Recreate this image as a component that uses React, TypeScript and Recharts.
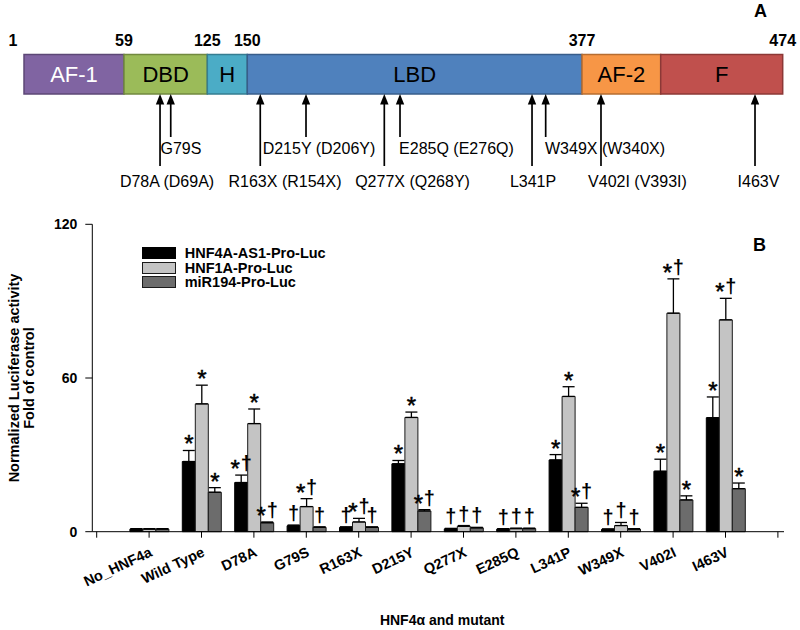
import {
  Bar,
  BarChart,
  ComposedChart,
  ErrorBar,
  LabelList,
  Legend,
  ReferenceArea,
  ReferenceDot,
  ReferenceLine,
  Scatter,
  XAxis,
  YAxis,
} from "recharts";

const FONT = '"Liberation Sans", Arial, Helvetica, sans-serif';

// ---- panel A: HNF4A domain map (schematic units 0-100 along the box) ----
const domainNames = ["AF-1", "DBD", "H", "LBD", "AF-2", "F"];
const domainSpans = [13.18, 10.98, 5.27, 44.12, 10.37, 16.08];
const boundaryResidues = [1, 59, 125, 150, 377, 474];
const boundaryDomainIndex = [0, 1, 2, 3, 4, 6];

const mutationNames = [
  "D78A (D69A)",
  "G79S",
  "R163X (R154X)",
  "D215Y (D206Y)",
  "Q277X (Q268Y)",
  "E285Q (E276Q)",
  "L341P",
  "W349X (W340X)",
  "V402I (V393I)",
  "I463V",
];
const mutationSites = [17.93, 19.34, 31.14, 37.17, 47.49, 49.56, 66.96, 68.76, 76.05, 96.35];
const mutationLabelAt = [18.85, 20.69, 34.4, 38.88, 51.21, 57.0, 67.09, 76.58, 80.86, 96.81];
const mutationTier = [2, 1, 2, 1, 2, 1, 2, 1, 2, 2];

// ---- panel B: luciferase activity ----
const categories = [
  "No_HNF4a",
  "Wild Type",
  "D78A",
  "G79S",
  "R163X",
  "D215Y",
  "Q277X",
  "E285Q",
  "L341P",
  "W349X",
  "V402I",
  "I463V",
];
const as1Values = [1.0, 27.4, 19.2, 2.3, 1.7, 26.5, 1.1, 1.0, 28.0, 0.9, 23.6, 44.5];
const as1Errors = [0.2, 4.3, 2.9, 0.3, 0.2, 1.3, 0.2, 0.2, 2.1, 0.2, 4.7, 8.1];
const as1Marks = ["", "*", "*†", "†", "†", "*", "†", "†", "*", "†", "*", "*"];

const hnf1aValues = [1.0, 49.9, 42.2, 9.8, 3.8, 44.6, 2.1, 1.2, 52.8, 2.4, 85.3, 82.7];
const hnf1aErrors = [0.2, 7.3, 5.7, 3.1, 1.4, 2.1, 0.3, 0.2, 3.8, 1.2, 13.4, 8.4];
const hnf1aMarks = ["", "*", "*", "*†", "*†", "*", "†", "†", "*", "†", "*†", "*†"];

const mir194Values = [1.0, 15.4, 3.5, 1.7, 1.7, 8.1, 1.5, 1.2, 9.5, 1.0, 12.4, 16.8];
const mir194Errors = [0.2, 1.8, 0.3, 0.2, 0.2, 0.5, 0.2, 0.2, 1.6, 0.2, 1.6, 2.2];
const mir194Marks = ["", "*", "*†", "†", "†", "*†", "†", "†", "*†", "†", "*", "*"];

const yTicks = [0, 60, 120];

const series = [
  { key: "as1", name: "HNF4A-AS1-Pro-Luc", values: as1Values, errors: as1Errors, marks: as1Marks, fill: "#000000", stroke: "#000000" },
  { key: "hnf1a", name: "HNF1A-Pro-Luc", values: hnf1aValues, errors: hnf1aErrors, marks: hnf1aMarks, fill: "#c4c4c4", stroke: "#1a1a1a" },
  { key: "mir194", name: "miR194-Pro-Luc", values: mir194Values, errors: mir194Errors, marks: mir194Marks, fill: "#6c6c6c", stroke: "#1a1a1a" },
];

const rows = categories.map((name, i) => {
  const row: Record<string, any> = { pos: i + 1, name };
  for (const s of series) {
    row[s.key] = s.values[i];
    row[s.key + "Err"] = [0, s.errors[i]];
    row[s.key + "Mark"] = s.marks[i];
  }
  return row;
});

const xTicks = Array.from({ length: categories.length + 2 }, (_, i) => i);

const domainFill = ["#8064a2", "#9bbb59", "#4bacc6", "#4f81bd", "#f79646", "#c0504d"];
const domainEdge = ["#5c4776", "#71893f", "#357d91", "#385d8a", "#b66d31", "#8c3836"];
const domainText = ["#ffffff", "#000000", "#000000", "#000000", "#000000", "#000000"];

// layout of panel A (y in pixels of that panel)
const BOX_TOP = 54.5;
const BOX_BOTTOM = 94;
const NUM_Y = 40.5;
const ARROW_END = [0, 137, 166];
const LABEL_Y = [0, 148, 181];

const domainStarts = domainSpans.reduce<number[]>((acc, w) => [...acc, acc[acc.length - 1] + w], [0]);

const mutationRows = mutationNames.map((name, i) => ({
  name,
  x: mutationLabelAt[i],
  y: LABEL_Y[mutationTier[i]],
}));

const Arrow = (p: any) => {
  const { x1, y1, y2 } = p;
  const top = Math.min(y1, y2);
  const bottom = Math.max(y1, y2);
  return (
    <g>
      <line x1={x1} y1={top + 8} x2={x1} y2={bottom} stroke="#000" strokeWidth={1.7} />
      <polygon points={`${x1},${top} ${x1 - 4.2},${top + 10.5} ${x1 + 4.2},${top + 10.5}`} fill="#000" />
    </g>
  );
};

const MutationText = (p: any) => (
  <text x={p.cx} y={p.cy} dy="0.36em" textAnchor="middle" fontSize={16} fill="#000">
    {p.payload?.name}
  </text>
);

const domainLabel = (name: string, color: string) => (p: any) => {
  const vb = p.viewBox;
  return (
    <text
      x={vb.x + vb.width / 2}
      y={vb.y + vb.height / 2}
      dy="0.36em"
      textAnchor="middle"
      fontSize={22}
      fill={color}
    >
      {name}
    </text>
  );
};

function DomainMap() {
  return (
    <ComposedChart width={800} height={200} data={mutationRows} margin={{ top: 0, right: 17.3, bottom: 0, left: 24 }}>
      <XAxis type="number" dataKey="x" domain={[0, 100]} allowDataOverflow hide />
      <YAxis type="number" dataKey="y" domain={[0, 200]} allowDataOverflow reversed hide />
      {domainNames.map((name, i) => (
        <ReferenceArea
          key={name}
          x1={domainStarts[i]}
          x2={domainStarts[i + 1]}
          y1={BOX_TOP}
          y2={BOX_BOTTOM}
          fill={domainFill[i]}
          fillOpacity={1}
          stroke={domainEdge[i]}
          strokeWidth={1.5}
          ifOverflow="visible"
          label={{ content: domainLabel(name, domainText[i]) }}
        />
      ))}
      {boundaryResidues.map((r, i) => (
        <ReferenceDot
          key={"b" + r}
          x={domainStarts[boundaryDomainIndex[i]]}
          y={NUM_Y}
          r={0}
          stroke="none"
          fill="none"
          ifOverflow="visible"
          label={{
            value: String(r),
            position: i === 0 ? "left" : "center",
            offset: 6.5,
            fill: "#000",
            fontSize: 16,
            fontWeight: "bold",
          }}
        />
      ))}
      {mutationNames.map((m, i) => (
        <ReferenceLine
          key={"a" + m}
          segment={[
            { x: mutationSites[i], y: BOX_BOTTOM },
            { x: mutationSites[i], y: ARROW_END[mutationTier[i]] },
          ]}
          ifOverflow="visible"
          shape={Arrow}
        />
      ))}
      <Scatter dataKey="y" shape={<MutationText />} isAnimationActive={false} />
    </ComposedChart>
  );
}

const CategoryTick = (props: any) => {
  const { x, y, payload } = props;
  const label = categories[payload.value - 1];
  if (!label) return null;
  return (
    <text
      x={x + 4}
      y={y + 16}
      transform={`rotate(-25 ${x + 4} ${y + 16})`}
      textAnchor="end"
      fontSize={14.5}
      fontWeight="bold"
      fill="#000"
    >
      {label}
    </text>
  );
};

const YTitle = (props: any) => {
  const { viewBox } = props;
  const cy = viewBox.y + viewBox.height / 2;
  return (
    <g fontWeight="bold" fontSize={14.5} fill="#000">
      <text x={19} y={cy} transform={`rotate(-90 19 ${cy})`} textAnchor="middle">
        Normalized Luciferase activity
      </text>
      <text x={34} y={cy} transform={`rotate(-90 34 ${cy})`} textAnchor="middle">
        Fold of control
      </text>
    </g>
  );
};

// asterisk sits higher than the dagger, so each glyph is placed on its own
const markLabel = (values: number[], errors: number[]) => (props: any) => {
  const { x, y, width, height, index, value } = props;
  if (!value || index == null) return null;
  const unit = height / values[index];
  const top = y - errors[index] * unit;
  const cx = x + width / 2;
  const chars = String(value).split("");
  const shifts = chars.length > 1 ? [-6, 5] : [0];
  return (
    <g fill="#000">
      {chars.map((c, k) =>
        c === "*" ? (
          <text key={k} x={cx + shifts[k]} y={top + 2} textAnchor="middle" fontSize={24} stroke="#000" strokeWidth={0.5}>
            *
          </text>
        ) : (
          <text key={k} x={cx + shifts[k]} y={top - 5} textAnchor="middle" fontSize={20} fontWeight="bold">
            †
          </text>
        )
      )}
    </g>
  );
};

const LegendBox = () => (
  <div style={{ fontFamily: FONT }}>
    {series.map((s) => (
      <div key={s.key} style={{ display: "flex", alignItems: "center", height: 14.5 }}>
        <span
          style={{
            display: "inline-block",
            width: 32,
            height: 10,
            background: s.fill,
            border: `1px solid ${s.stroke}`,
            marginRight: 9,
          }}
        />
        <span style={{ fontSize: 14.5, fontWeight: "bold", color: "#000", lineHeight: "14.5px" }}>{s.name}</span>
      </div>
    ))}
  </div>
);

function ActivityChart() {
  return (
    <BarChart
      width={800}
      height={430}
      data={rows}
      margin={{ top: 24.3, right: 16, bottom: 18.3, left: 32.3 }}
      barGap={0}
      barSize={13}
    >
      <XAxis
        dataKey="pos"
        type="number"
        domain={[0, categories.length + 1]}
        ticks={xTicks}
        interval={0}
        padding={{ left: 4.4, right: 6.1 }}
        height={80}
        tickSize={6}
        axisLine={{ stroke: "#000" }}
        tickLine={{ stroke: "#000" }}
        tick={<CategoryTick />}
        label={{
          value: "HNF4α and mutant",
          position: "bottom",
          offset: 3,
          dx: 4,
          fill: "#000",
          fontSize: 14,
          fontWeight: "bold",
        }}
      />
      <XAxis xAxisId="top" orientation="top" type="number" domain={[0, 1]} height={0} tick={false} tickLine={false} axisLine={{ stroke: "#000" }} />
      <YAxis
        domain={[0, 120]}
        ticks={yTicks}
        width={60}
        tickSize={7}
        tickMargin={8}
        axisLine={{ stroke: "#000" }}
        tickLine={{ stroke: "#000" }}
        tick={{ fill: "#000", fontSize: 14, fontWeight: "bold" }}
        label={{ content: <YTitle /> }}
      />
      <YAxis yAxisId="right" orientation="right" width={0} tick={false} tickLine={false} axisLine={{ stroke: "#000" }} />
      <Legend
        layout="vertical"
        align="center"
        verticalAlign="middle"
        wrapperStyle={{ left: 141.7, top: 46, width: 220 }}
        content={<LegendBox />}
      />
      {series.map((s) => (
        <Bar
          key={s.key}
          dataKey={s.key}
          name={s.name}
          fill={s.fill}
          stroke={s.stroke}
          strokeWidth={1}
          isAnimationActive={false}
        >
          <ErrorBar dataKey={s.key + "Err"} direction="y" width={6} stroke="#000" strokeWidth={1.3} />
          <LabelList dataKey={s.key + "Mark"} content={markLabel(s.values, s.errors)} />
        </Bar>
      ))}
    </BarChart>
  );
}

export default function App() {
  return (
    <div
      style={{
        position: "absolute",
        left: 0,
        top: 0,
        width: 800,
        height: 630,
        background: "#fff",
        fontFamily: FONT,
        overflow: "hidden",
      }}
    >
      <div style={{ position: "absolute", left: 0, top: 0 }}>
        <DomainMap />
      </div>
      <div style={{ position: "absolute", left: 0, top: 200 }}>
        <ActivityChart />
      </div>
      <div
        style={{
          position: "absolute",
          left: 760.5,
          top: 11,
          transform: "translate(-50%, -50%)",
          fontSize: 18,
          fontWeight: "bold",
          lineHeight: 1,
        }}
      >
        A
      </div>
      <div
        style={{
          position: "absolute",
          left: 759.5,
          top: 245,
          transform: "translate(-50%, -50%)",
          fontSize: 18,
          fontWeight: "bold",
          lineHeight: 1,
        }}
      >
        B
      </div>
    </div>
  );
}
